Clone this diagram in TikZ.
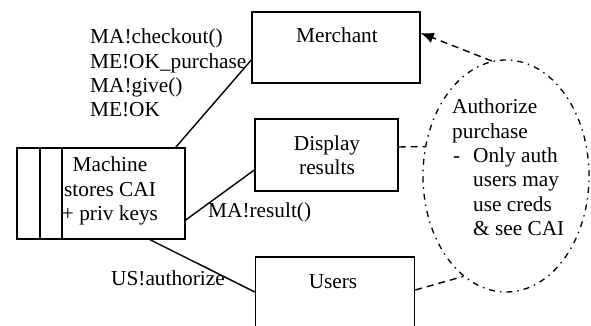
\documentclass[tikz,border=0pt]{standalone}
\usepackage{fontspec}
\setmainfont{Liberation Serif}
\usetikzlibrary{shapes.geometric,arrows.meta}
\begin{document}
\begin{tikzpicture}[x=1pt,y=-1pt,
  box/.style={draw,line width=1.4pt,rectangle,inner sep=0pt},
  txt/.style={inner sep=0pt,align=left,font=\fontsize{21.3}{24.3}\selectfont},
  ctxt/.style={inner sep=0pt,align=center,font=\fontsize{21.3}{24.3}\selectfont},
  conn/.style={line width=1.4pt},
  dconn/.style={line width=1.4pt,dash pattern=on 7pt off 5pt},
  dashdotline/.style={line width=1.3pt,dash pattern=on 6pt off 5pt on 1.5pt off 5pt}]
\useasboundingbox (0,0) rectangle (591,326);
\begin{scope}
\clip (0,0) rectangle (591,326);
% boxes
\node[box,minimum width=168pt,minimum height=71pt] (merch) at (336,47.5) {};
\node[box,minimum width=143pt,minimum height=72pt] (disp) at (326.5,155) {};
\node[box,minimum width=159pt,minimum height=93pt] (users) at (335,303.5) {};
\node[box,minimum width=168pt,minimum height=91pt] (mach) at (101,193.5) {};
\draw[conn] (40,148) -- (40,239);
\draw[conn] (62,148) -- (62,239);
\node[draw,ellipse,dashdotline,minimum width=166pt,minimum height=232pt,inner sep=0pt] (ell) at (506,176) {};
\end{scope}
% texts
\node[ctxt] (tmerch) at (337,35) {Merchant};
\node[ctxt] (tdisp) at (327,155.5) {Display\\results};
\node[ctxt] (tusers) at (333,282) {Users};
\node[ctxt] (tmach) at (110,191) {Machine\\stores CAI\\+ priv keys};
\node[txt,anchor=north west] (tmsg) at (90,29) {MA!checkout()\\ME!OK\_purchase\\MA!give()\\ME!OK};
\node[txt,anchor=west] (tres) at (208,212) {MA!result()};
\node[txt,anchor=west] (tauth) at (111,278) {US!authorize};
\node[txt,anchor=north west] (tell) at (452,99) {Authorize\\purchase\\\makebox[21pt][l]{\hspace*{1pt}-}Only auth\\\hspace*{21pt}users may\\\hspace*{21pt}use creds\\\hspace*{21pt}\& see CAI};
% connectors
\draw[conn] ([xshift=-10pt]mach.north east) -- ([yshift=-12.5pt]merch.west);
\draw[conn] ([yshift=-26.5pt]mach.east) -- ([yshift=-15pt]disp.west);
\draw[conn] ([xshift=49pt]mach.south) -- ([yshift=11.5pt]users.west);
\draw[dconn,-{Latex[length=13pt,width=11pt]}] (ell.97) -- ([yshift=14.5pt]merch.east);
\draw[dconn] ([yshift=8pt]disp.east) -- (ell.160);
\draw[dconn] ([yshift=13.5pt]users.east) -- (ell.247);
\end{tikzpicture}
\end{document}
